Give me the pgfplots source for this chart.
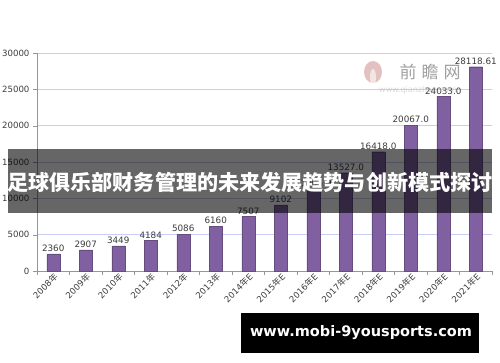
\documentclass[border=0pt]{standalone}
\usepackage{pgfplots}
\pgfplotsset{compat=1.18}
\usepackage{pgfplotstable}
\usepackage{fontspec}
\setmainfont{DejaVu Sans}
\newfontfamily\cjk{Noto Sans CJK SC}
\definecolor{barc}{RGB}{128,96,160}
\definecolor{gridc}{RGB}{200,205,245}
\definecolor{txt}{RGB}{60,60,60}
\definecolor{axc}{RGB}{150,150,150}
\pgfplotstableread{
x y lab
0 2360 2360
1 2907 2907
2 3449 3449
3 4184 4184
4 5086 5086
5 6160 6160
6 7507 7507
7 9102 9102
8 11296 11296.0
9 13527 13527.0
10 16418 16418.0
11 20067 20067.0
12 24033 24033.0
13 28118.61 28118.61
}\datatable
\begin{document}
\begin{tikzpicture}[x=1pt,y=1pt]
\path[use as bounding box] (0,0) rectangle (500,362);
\begin{axis}[
  at={(37pt,91pt)}, anchor=south west, scale only axis,
  width=455pt, height=218pt,
  xmin=-0.5, xmax=13.5, ymin=0, ymax=30000,
  ybar, bar width=13pt,
  axis x line*=bottom, axis y line*=left,
  axis line style={-, draw=axc},
  ytick={0,5000,...,30000}, scaled y ticks=false,
  /pgf/number format/assume math mode=true,
  /pgf/number format/1000 sep={},
  yticklabel style={font=\fontsize{8.6}{9}\selectfont, text=txt},
  ymajorgrids, grid style={gridc, line width=0.8pt},
  xtick={-0.5,0.5,...,13.5}, xticklabels={},
  tick align=outside, tick style={axc}, major tick length=4pt,
  extra x ticks={0,...,13},
  extra x tick labels={2008{\cjk 年},2009{\cjk 年},2010{\cjk 年},2011{\cjk 年},2012{\cjk 年},2013{\cjk 年},2014{\cjk 年}E,2015{\cjk 年}E,2016{\cjk 年}E,2017{\cjk 年}E,2018{\cjk 年}E,2019{\cjk 年}E,2020{\cjk 年}E,2021{\cjk 年}E},
  extra x tick style={major tick length=0pt, xticklabel style={rotate=45, anchor=north east, font=\fontsize{8.6}{9}\selectfont, text=txt, inner sep=1pt}},
  nodes near coords, point meta=explicit symbolic,
  nodes near coords style={font=\fontsize{8.8}{9}\selectfont, text=txt, inner sep=2pt},
]
\addplot[fill=barc, draw=barc!80!black, line width=0.3pt] table[x=x, y=y, meta=lab] {\datatable};
\end{axis}
% watermark
\fill[red!40!gray, opacity=0.35] (373,290) ellipse (9 and 11);
\fill[white, opacity=0.6] (373,285) ellipse (3 and 8);
\node[text=gray, opacity=0.75, font=\cjk\fontsize{17}{18}\selectfont] at (430,290) {前\hspace{5pt}瞻\hspace{5pt}网};
\node[text=gray!50, opacity=0.6, font=\fontsize{8}{9}\selectfont] at (418,272) {www.qianzhan.com};
% banner
\fill[black, opacity=0.6] (8,149) rectangle (492,213);
\node[text=white, font=\cjk\bfseries\fontsize{21.1}{24}\selectfont, inner sep=0pt] at (250,180) {足球俱乐部财务管理的未来发展趋势与创新模式探讨};
% bottom box
\fill[black] (241,9) rectangle (479,49);
\node[text=white, font=\bfseries\fontsize{14.5}{16}\selectfont] at (361,29) {www.mobi-9yousports.com};
\end{tikzpicture}
\end{document}
